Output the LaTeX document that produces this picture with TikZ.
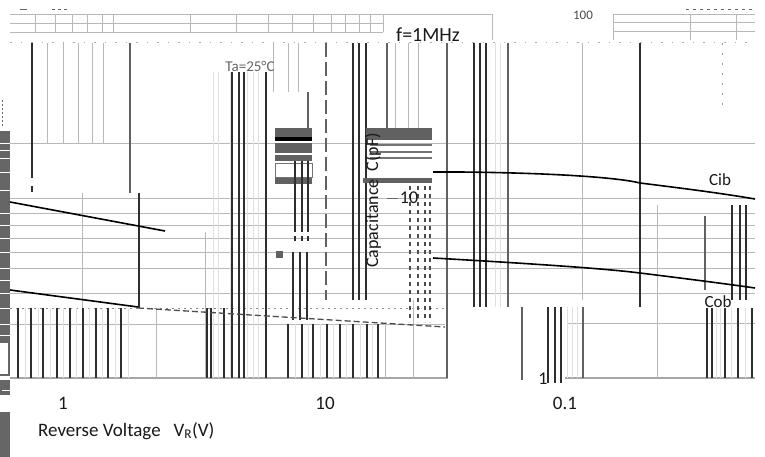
\documentclass[tikz,border=0pt]{standalone}
\usepackage{fontspec}
\setmainfont{Carlito}
\begin{document}
\begin{tikzpicture}[x=1pt,y=-1pt,
  grid/.style={draw=black!28,line width=0.9pt},
  lgrid/.style={draw=black!12,line width=1pt},
  bar/.style={draw=black!82,line width=2.6pt},
  dbar/.style={draw=black!62,line width=2.2pt},
  curve/.style={draw=black,line width=1.6pt},
  blk/.style={fill=black!62},
  lbl/.style={font=\fontsize{18}{20}\selectfont,inner sep=0pt,text=black!90}]
\useasboundingbox[fill=white] (0,0) rectangle (765,457);

% ---------- top strips ----------
\foreach \y in {14,23,32} \draw[grid] (10,\y) -- (383,\y);
\draw[grid] (383,14) -- (492,14) -- (492,40);
\foreach \x in {35,55,72,87,102,113,190,236,268,292,313,331,345,359,370,383}
  \draw[grid] (\x,14) -- (\x,32);
\draw[black!60,line width=1pt] (20,10) -- (27,10);
\draw[black!60,line width=1pt,dash pattern=on 3pt off 3pt] (52,10) -- (70,10);
\draw[grid] (613,40) -- (613,14) -- (755,14);
\draw[grid] (613,22) -- (755,22);
\draw[grid] (613,31) -- (755,31);
\draw[grid] (690,14) -- (690,40);
\draw[grid] (736,14) -- (736,40);
\draw[black!60,line width=1pt,dash pattern=on 3pt off 4pt] (686,10) -- (755,10);
\draw[black!32,line width=1pt,dash pattern=on 1.5pt off 9pt] (10,43) -- (755,43);

% ---------- horizontal grid ----------
\draw[grid] (10,143) -- (755,143);
\foreach \y in {198,213,225,238,252,268,293} \draw[grid] (10,\y) -- (755,\y);
\draw[black!45,line width=1pt,dash pattern=on 2pt off 4pt] (10,308) -- (445,308);
\draw[grid] (10,324) -- (445,324);
\draw[grid] (567,323) -- (755,323);
\draw[draw=black!35,line width=1.3pt] (10,378) -- (448,378);
\draw[draw=black!35,line width=1.3pt] (565,378) -- (755,378);

% ---------- left edge blocks ----------
\fill[black!60] (0,131) rectangle (10,343);
\foreach \y in {143,150,158,172,190,213,225,238,252,268,280,293,308,324,335}
  \draw[white,line width=0.8pt] (0,\y) -- (10,\y);
\draw[black!60,line width=2pt] (9,343) -- (9,375) -- (0,375);
\fill[black!60] (0,380) rectangle (10,395);
\draw[white,line width=0.8pt] (2,390) -- (10,390);
\fill[black!60] (0,412) rectangle (10,457);
\draw[black!60,line width=1pt,dash pattern=on 2pt off 2pt] (2,100) -- (2,127);

% ---------- left panel verticals ----------
\foreach \x in {47,63,78,92,103} \draw[grid] (\x,43) -- (\x,143);
\draw[bar] (32,43) -- (32,178);
\draw[bar] (32,186) -- (32,192);
\draw[dbar] (130,43) -- (130,193);
\draw[bar] (139,193) -- (139,308);
\draw[grid] (82,193) -- (82,378);
\draw[grid] (205,232) -- (205,378);
\draw[grid] (156,308) -- (156,378);
\foreach \x in {25,38,50,63,76,89,102,115,128} \draw[lgrid] (\x,308) -- (\x,378);
\foreach \x in {18,31,43,57,70,83,96,108,121} \draw[bar] (\x,308) -- (\x,378);
\foreach \x in {213,218,230,247,253,258} \draw[lgrid] (\x,72) -- (\x,378);
\foreach \x in {207,211,224} \draw[bar] (\x,308) -- (\x,378);
\foreach \x in {232,239,244} \draw[bar] (\x,72) -- (\x,378);
\draw[bar] (266,72) -- (266,378);
\foreach \x in {295,308,320,333,346,360,372} \draw[lgrid] (\x,324) -- (\x,378);
\foreach \x in {288,302,313,327,340,353,367,378} \draw[bar] (\x,324) -- (\x,378);
\draw[grid] (413,300) -- (413,378);
\draw[grid] (385,324) -- (385,378);
\draw[dbar] (447,43) -- (447,378);

% ---------- middle cluster ----------
\foreach \x in {273,288,298} \draw[grid] (\x,43) -- (\x,92);
\draw[dbar] (308,92) -- (308,130);
\fill[blk] (275,128) rectangle (312,140);
\fill[black] (275,137) rectangle (312,141);
\fill[blk] (275,143) rectangle (312,153);
\fill[blk] (275,155) rectangle (312,161);
\draw[black!55,line width=0.8pt] (275,163) rectangle (312,177);
\fill[blk] (275,178) rectangle (312,184);
\foreach \x in {295,302,308} \draw[bar] (\x,161) -- (\x,232);
\foreach \x in {295,302,308} \draw[bar] (\x,236) -- (\x,241);
\foreach \x in {293,300,307} \draw[bar] (\x,252) -- (\x,320);
\fill[blk] (276,251) rectangle (283,258);
\draw[dbar,dash pattern=on 14pt off 5pt] (326,43) -- (326,300);
\foreach \x in {353,359,366} \draw[bar] (\x,43) -- (\x,300);
\draw[dbar] (387,43) -- (387,130);
\foreach \x in {395,408,418} \draw[grid] (\x,43) -- (\x,128);
\fill[blk] (366,128) rectangle (432,140);
\foreach \y in {145,152,158} \draw[black!55,line width=1.5pt] (370,\y) -- (432,\y);
\fill[blk] (363,178) rectangle (432,183);
\foreach \x in {410,418,425,430}
  \draw[black!70,line width=1.4pt,dash pattern=on 4pt off 4pt] (\x,186) -- (\x,322);
\draw[black!60,line width=1pt] (387,198) -- (398,198);

% ---------- right panel verticals ----------
\foreach \x in {495,500} \draw[lgrid] (\x,43) -- (\x,307);
\foreach \x in {474,480,486} \draw[bar] (\x,43) -- (\x,307);
\draw[dbar] (508,43) -- (508,307);
\draw[grid] (582,43) -- (582,300);
\draw[bar] (640,43) -- (640,307);
\draw[grid] (657,205) -- (657,378);
\draw[black!40,line width=1pt,dash pattern=on 2pt off 8pt] (722,43) -- (722,110);
\draw[dbar] (705,216) -- (705,290);
\foreach \x in {732,740,746} \draw[bar] (\x,205) -- (\x,300);
\draw[dbar] (522,307) -- (522,380);
\foreach \x in {567,572,577} \draw[lgrid] (\x,307) -- (\x,378);
\foreach \x in {548,555,561} \draw[bar] (\x,307) -- (\x,383);
\draw[dbar] (583,307) -- (583,378);
\foreach \x in {716,720,731,745} \draw[lgrid] (\x,308) -- (\x,378);
\foreach \x in {707,712,725,738,752} \draw[bar] (\x,308) -- (\x,378);

% ---------- curves ----------
\draw[curve] (10,202) -- (165,231);
\draw[curve] (10,290) -- (138,307);
\draw[black!70,line width=1.3pt,dash pattern=on 6pt off 3pt] (138,308) -- (445,327);
\draw[curve] (433,172) -- (460,172) .. controls (560,173) and (620,178) .. (640,183)
  .. controls (680,188) and (720,193) .. (755,199);
\draw[curve] (433,258) .. controls (520,263) and (600,268) .. (640,273)
  .. controls (680,278) and (720,283) .. (755,288);

% ---------- texts ----------
\node[lbl,font=\fontsize{20}{22}\selectfont] (freq) at (428,35) {f=1MHz};
\node[lbl,font=\fontsize{15}{17}\selectfont,text=black!60] (temp) at (250,66) {Ta=25°C};
\node[lbl,font=\fontsize{13}{15}\selectfont,text=black!70] (top100) at (583,15) {100};
\node[lbl,rotate=90,anchor=west] (ylab) at (373,268) {Capacitance\ \ C(pF)};
\node[lbl] (y10) at (409,198) {10};
\node[lbl,font=\fontsize{17}{19}\selectfont] (cib) at (720,180) {Cib};
\node[lbl,font=\fontsize{17}{19}\selectfont] (cob) at (718,302) {Cob};
\node[lbl] (y1) at (543,379) {1};
\node[lbl,font=\fontsize{19}{21}\selectfont] (x1) at (63,403) {1};
\node[lbl,font=\fontsize{19}{21}\selectfont] (x10) at (325,403) {10};
\node[lbl,font=\fontsize{19}{21}\selectfont] (x01) at (565,403) {0.1};
\node[lbl,anchor=west,font=\fontsize{19}{21}\selectfont] (xlab) at (38,431) {Reverse Voltage\ \ \ V\textsubscript{R}(V)};
\end{tikzpicture}
\end{document}
